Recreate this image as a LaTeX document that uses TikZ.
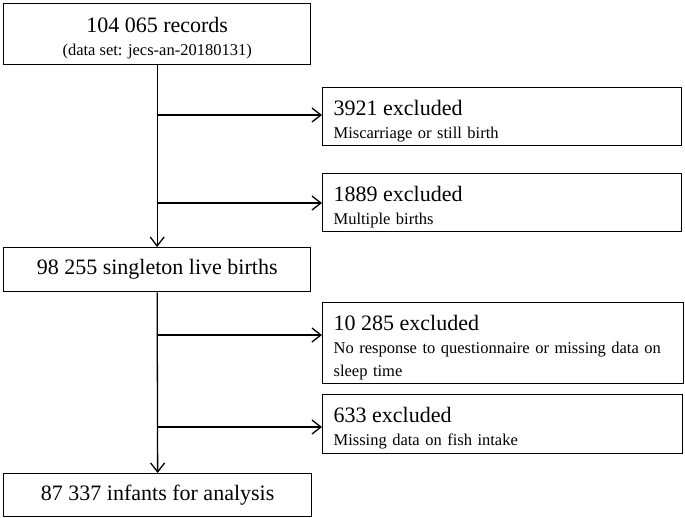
\documentclass[tikz,border=0pt]{standalone}
\usepackage{fontspec}
\setmainfont{Liberation Serif}
\usetikzlibrary{arrows.meta}
\newcommand{\bigf}{\fontsize{22}{23}\selectfont}
\newcommand{\smallf}{\fontsize{16.5}{23}\selectfont}
\newcommand{\topstrut}{\rule{0pt}{24pt}}
\begin{document}
\begin{tikzpicture}[x=1pt,y=-1pt,
  box/.style={draw, line width=1.3pt, anchor=north west, inner sep=0pt, align=center, font=\bigf},
  ebox/.style={draw, line width=1.3pt, anchor=north west, inner xsep=11pt, inner ysep=0pt, align=left, font=\smallf},
  arr/.style={line width=1.3pt, -{Straight Barb[length=9pt,width=14pt,line width=1.3pt]}},
]
\useasboundingbox (0,0) rectangle (685,517);
\node[box, minimum width=307pt, minimum height=61pt, font=\smallf] (top) at (3,3)
  {{\bigf\topstrut 104 065 records}\\(data set: jecs-an-20180131)};
\node[box, minimum width=307pt, minimum height=44pt] (mid) at (3,247)
  {98 255 singleton live births};
\node[box, minimum width=308pt, minimum height=43pt] (bot) at (3,473)
  {87 337 infants for analysis};
\node[ebox, text width=337pt, minimum height=58pt] (e1) at (322,87)
  {{\bigf\topstrut 3921 excluded}\\Miscarriage or still birth};
\node[ebox, text width=337pt, minimum height=58pt] (e2) at (322,173)
  {{\bigf\topstrut 1889 excluded}\\Multiple births};
\node[ebox, text width=339pt, minimum height=81pt] (e3) at (322,302)
  {{\bigf\topstrut 10 285 excluded}\\No response to questionnaire or missing data on sleep time};
\node[ebox, text width=338pt, minimum height=59pt] (e4) at (322,394)
  {{\bigf\topstrut 633 excluded}\\Missing data on fish intake};
\draw[arr] (top.south) -- (mid.north);
\draw[arr] (mid.south) -- (bot.north);
\coordinate (a1) at (156.5,115);
\coordinate (a2) at (156.5,203);
\coordinate (a3) at (156.5,335);
\coordinate (a4) at (156.5,427);
\draw[arr] (a1) -- (a1 -| e1.west);
\draw[arr] (a2) -- (a2 -| e2.west);
\draw[arr] (a3) -- (a3 -| e3.west);
\draw[arr] (a4) -- (a4 -| e4.west);
\end{tikzpicture}
\end{document}
